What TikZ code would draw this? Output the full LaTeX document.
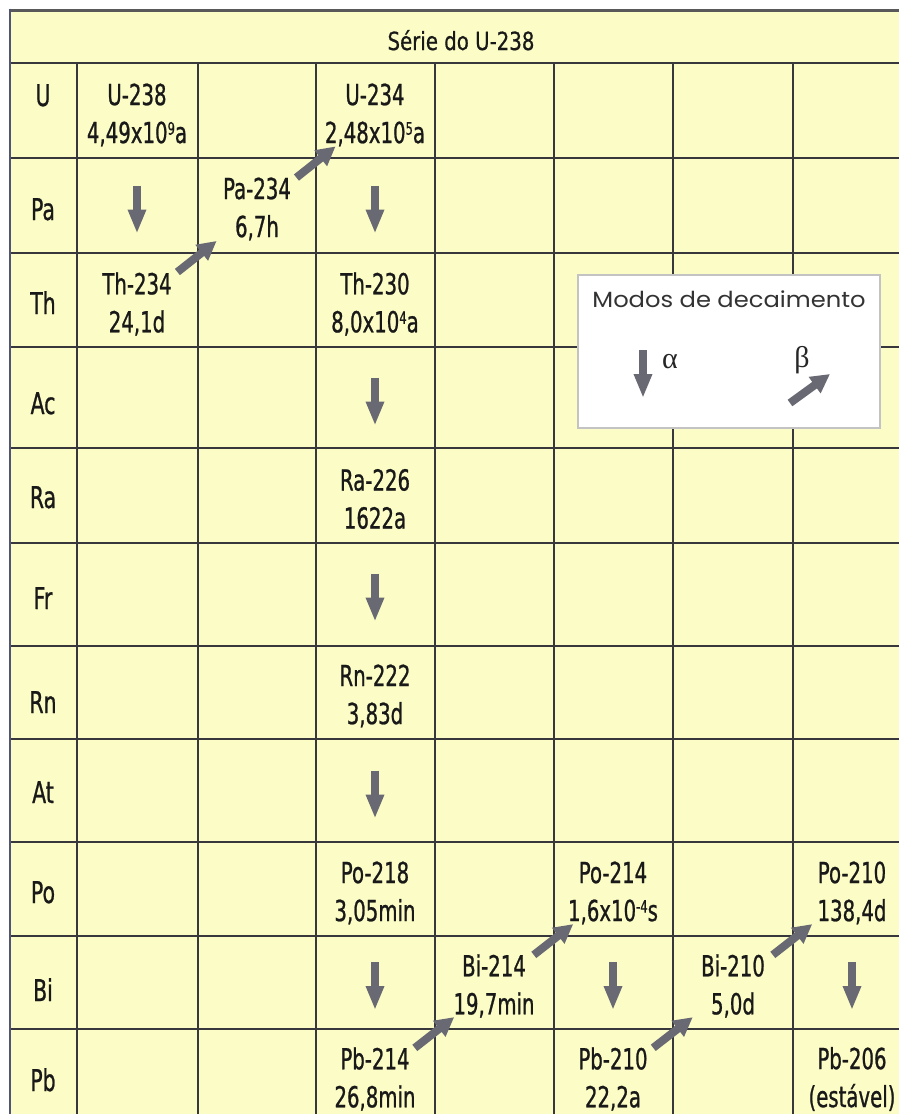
\documentclass[tikz,border=0pt]{standalone}
\usepackage{fontspec}
\usepackage{amsmath}
\usetikzlibrary{arrows.meta,calc}
\newfontfamily\cellfont[FakeStretch=0.68,FakeBold=0.8]{DejaVu Sans}
\newfontfamily\titlefont[FakeStretch=0.79,FakeBold=0.6]{DejaVu Sans}
\newfontfamily\legendfont[FakeStretch=1.1]{Poppins}
\newfontfamily\greekfont{Liberation Serif}
\newcommand\expo[1]{\raisebox{8.5pt}{\fontsize{17}{17}\selectfont #1}}
\definecolor{paper}{RGB}{252,252,198}
\definecolor{rulegray}{RGB}{55,55,60}
\definecolor{arrowgray}{RGB}{105,105,115}
\definecolor{legendedge}{RGB}{195,195,195}

\begin{document}
\begin{tikzpicture}[x=1pt, y=-1pt,
    rule/.style={draw=rulegray, line width=2.2pt},
    nuclide/.style={align=center, inner sep=0pt, text=black!90, font=\cellfont\fontsize{29}{38}\selectfont},
    elem/.style={anchor=base, inner sep=0pt, text=black!90, font=\cellfont\fontsize{30}{36}\selectfont},
    alphadecay/.style={draw=arrowgray, line width=8pt, -{Triangle[width=17pt,length=24pt]}},
    betadecay/.style={draw=arrowgray, line width=8pt, -{Triangle[width=19pt,length=19pt]}}]
    \clip (0,0) rectangle (899,1114);
    \fill[white] (0,0) rectangle (899,1114);
    \fill[paper] (10,10) rectangle (920,1130);
    % table rules
    \foreach \y in {63,158,253,347,448,543,646,739,842,936,1029}
      \draw[rule] (10,\y) -- (920,\y);
    \foreach \x in {77,198,316,435,554,673,793}
      \draw[rule] (\x,63) -- (\x,1130);
    \draw[draw=black!65, line width=3pt] (8.5,10) -- (920,10);
    \draw[draw={rgb,255:red,80;green,85;blue,115}, line width=2.5pt] (10,8.5) -- (10,1130);
    \node[anchor=base, inner sep=0pt, text=black!90, font=\titlefont\fontsize{25}{30}\selectfont]
      (title) at (461,50) {Série do U-238};
    % element column
    \foreach \el/\y in {U/95,Pa/209,Th/303,Ac/403,Ra/497,Fr/598,Rn/702,At/792,Po/892,Bi/990,Pb/1080}
      \node[elem] (el-\el) at (43,\y+11) {\el};
    % nuclides
    \node[nuclide] (u238) at (137,115) {U-238\\4,49x10\expo{9}a};
    \node[nuclide] (u234) at (375,115) {U-234\\2,48x10\expo{5}a};
    \node[nuclide] (pa234) at (257,209) {Pa-234\\6,7h};
    \node[nuclide] (th234) at (137,304) {Th-234\\24,1d};
    \node[nuclide] (th230) at (375,304) {Th-230\\8,0x10\expo{4}a};
    \node[nuclide] (ra226) at (375,499) {Ra-226\\1622a};
    \node[nuclide] (rn222) at (375,696) {Rn-222\\3,83d};
    \node[nuclide] (po218) at (375,893) {Po-218\\3,05min};
    \node[nuclide] (po214) at (613,893) {Po-214\\1,6x10\expo{-4}s};
    \node[nuclide] (po210) at (852,893) {Po-210\\138,4d};
    \node[nuclide] (bi214) at (494,986) {Bi-214\\19,7min};
    \node[nuclide] (bi210) at (733,986) {Bi-210\\5,0d};
    \node[nuclide] (pb214) at (375,1079) {Pb-214\\26,8min};
    \node[nuclide] (pb210) at (613,1079) {Pb-210\\22,2a};
    \node[nuclide] (pb206) at (852,1079) {Pb-206\\(estável)};
    % alpha and beta steps
    \foreach \a/\b in {u238/th234, u234/th230, th230/ra226, ra226/rn222,
                       rn222/po218, po218/pb214, po214/pb210, po210/pb206}
      \draw[alphadecay] ($(\a)!.5!(\b)!24pt!(\a)$) -- ($(\a)!.5!(\b)!24pt!(\b)$);
    \foreach \a/\b in {th234/pa234, pa234/u234, pb214/bi214,
                       bi214/po214, pb210/bi210, bi210/po210}
      \draw[betadecay] ($(\a)!.5!(\b)!25pt!(\a)$) -- ($(\a)!.5!(\b)!25pt!(\b)$);
    % legend
    \node[draw=legendedge, line width=1.5pt, fill=white, inner sep=0pt,
      minimum width=302pt, minimum height=153pt] (legend) at (729,351.5) {};
    \node[anchor=base, inner sep=0pt, text=black!80,
      font=\legendfont\fontsize{22}{25}\selectfont] (modes) at (729,307) {Modos de decaimento};
    \node[inner sep=0pt, text=black!85, font=\greekfont\fontsize{30}{32}\selectfont] (alphasym) at (670,362) {α};
    \node[inner sep=0pt, text=black!85, font=\greekfont\fontsize{30}{32}\selectfont] (betasym) at (802,360) {β};
    \coordinate (atail) at (643,350);
    \coordinate (ahead) at (643,398);
    \coordinate (btail) at (790,403);
    \coordinate (bhead) at (830,374);
    \draw[alphadecay] (atail) -- (ahead);
    \draw[betadecay] (btail) -- (bhead);
  \end{tikzpicture}
\end{document}
